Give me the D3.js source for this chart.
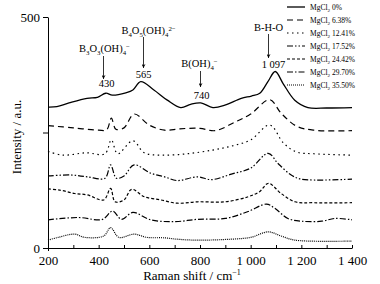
<!DOCTYPE html>
<html>
<head>
<meta charset="utf-8">
<script src="https://cdn.jsdelivr.net/npm/d3@7"></script>
<style>
  body { margin: 0; background: #fff; }
  text { font-family: "Liberation Serif", "DejaVu Serif", serif; }
</style>
</head>
<body>
<div class="chart"></div>
<script>
// legend labels (MgCl2 concentration)
let concentrations = ["0%", "6.38%", "12.41%", "17.52%", "24.42%", "29.70%", "35.50%"];

// spectra: [Raman shift, intensity]
let mg0 = [[200,305],[235,306],[283,314],[354,324],[395,326],[428,335],[454,331],[507,336],[535,342],[566,360],[618,342],[671,320],[724,304],[763,311],[803,314],[851,304],[898,309],[963,324],[1003,329],[1036,335],[1068,360],[1097,382],[1128,356],[1174,320],[1226,304],[1300,303],[1400,304]];
let mg638 = [[200,265],[300,260],[400,255],[432,256],[450,281],[468,257],[500,260],[540,290],[600,266],[660,255],[720,258],[800,259],[860,254],[940,273],[1000,290],[1075,321],[1120,292],[1180,264],[1250,255],[1400,254]];
let mg1241 = [[200,209],[260,201],[350,206],[425,204],[450,234],[475,204],[535,232],[580,206],[650,201],[750,204],[850,212],[920,220],[1000,234],[1075,266],[1130,227],[1180,208],[1250,204],[1400,201]];
let mg1752 = [[200,156],[290,158],[355,154],[425,151],[447,180],[470,151],[500,156],[540,180],[605,162],[660,154],[710,146],[790,154],[845,148],[924,160],[1000,173],[1069,205],[1108,183],[1160,158],[1200,149],[1400,149]];
let mg2442 = [[200,128],[250,125],[305,118],[355,115],[420,104],[447,129],[465,100],[500,104],[530,127],[580,111],[645,104],[710,97],[790,100],[900,100],[990,111],[1035,122],[1070,140],[1120,118],[1175,100],[1250,98],[1400,98]];
let mg2970 = [[200,61],[320,66],[415,62],[455,80],[490,62],[535,77],[605,61],[700,57],[790,62],[900,64],[990,79],[1062,95],[1095,86],[1147,64],[1200,58],[1280,58],[1332,64],[1400,61]];
let mg3550 = [[200,17],[240,23],[305,30],[345,23],[420,26],[447,44],[480,23],[540,30],[590,23],[660,22],[710,19],[790,17],[920,19],[1000,23],[1070,35],[1120,26],[1175,17],[1400,15]];

let spectra = [mg0, mg638, mg1241, mg1752, mg2442, mg2970, mg3550];

let xTicks = [200, 300, 400, 500, 600, 700, 800, 900, 1000, 1100, 1200, 1300, 1400];
let yTicks = [0, 250, 500];

// peak annotations: arrow position (cm-1, as drawn), value label
let peakAt = [418, 575, 800, 1070];
let peakValues = ["430", "565", "740", "1 097"];

let dashes = ["none", "6,4", "1.5,3.5", "6,2,1.5,2,1.5,2", "3,2", "6,2,1.5,2", "1,1"];

let serif = "Liberation Serif, DejaVu Serif, serif";

let svg = d3.select("div.chart").append("svg")
  .attr("width", 380)
  .attr("height", 284)
  .attr("font-family", serif);

let x = d3.scaleLinear().domain([200, 1400]).range([48, 352]);
let y = d3.scaleLinear().domain([0, 500]).range([248, 17]);

let fmt = (d) => d >= 1000 ? Math.floor(d / 1000) + " " + String(d).slice(1) : String(d);

// axes
let xAxis = svg.append("g")
  .attr("transform", "translate(0,248)")
  .call(d3.axisBottom(x).tickValues(xTicks).tickSize(-3).tickSizeOuter(0).tickPadding(8)
    .tickFormat((d) => d % 200 ? "" : fmt(d)));

let yAxis = svg.append("g")
  .attr("transform", "translate(48,0)")
  .call(d3.axisLeft(y).tickValues(yTicks).tickSize(5).tickSizeOuter(0).tickPadding(3)
    .tickFormat((d) => d === 250 ? "" : d));

xAxis.attr("font-family", serif).attr("font-size", 13);
yAxis.attr("font-family", serif).attr("font-size", 13);
svg.selectAll(".tick text").attr("fill", "#000");
svg.selectAll(".domain, .tick line").attr("stroke", "#000");

// y axis continues a little below zero
svg.append("line")
  .attr("x1", 48.5).attr("x2", 48.5)
  .attr("y1", 248).attr("y2", 251)
  .attr("stroke", "#000");

svg.append("text")
  .attr("x", 192).attr("y", 280)
  .attr("text-anchor", "middle")
  .attr("font-size", 13)
  .text("Raman shift / cm")
  .append("tspan")
  .attr("dy", -5)
  .attr("font-size", 8)
  .text("\u22121");

svg.append("text")
  .attr("transform", "translate(21,137) rotate(-90)")
  .attr("text-anchor", "middle")
  .attr("font-size", 13)
  .text("Intensity / a.u.");

// spectra
let line = d3.line()
  .x((d) => x(d[0]))
  .y((d) => y(d[1]))
  .curve(d3.curveCatmullRom.alpha(0.5));

svg.append("g")
  .selectAll("path")
  .data(spectra)
  .enter().append("path")
  .attr("d", line)
  .attr("fill", "none")
  .attr("stroke", "#000")
  .attr("stroke-width", (d, i) => i === 0 ? 1.3 : 1.2)
  .attr("stroke-dasharray", (d, i) => dashes[i]);

// text with sub/superscripts: parts = [text, shift] (shift: 0 normal, 1 sub, -1 sup)
function richText(g, parts, cx, cy, size) {
  let t = g.append("text")
    .attr("x", cx).attr("y", cy)
    .attr("text-anchor", "middle")
    .attr("font-size", size);
  let prev = 0;
  parts.forEach((p) => {
    let shift = p[1] * size * 0.3;
    t.append("tspan")
      .attr("dy", shift - prev)
      .attr("font-size", p[1] ? size * 0.65 : size)
      .text(p[0]);
    prev = shift;
  });
  return t;
}

let defs = svg.append("defs");
defs.append("marker")
  .attr("id", "arrow")
  .attr("viewBox", "0 0 6 6")
  .attr("refX", 3).attr("refY", 6)
  .attr("markerWidth", 4).attr("markerHeight", 5)
  .attr("orient", "0")
  .attr("markerUnits", "userSpaceOnUse")
  .append("path")
  .attr("d", "M0,0L3,6L6,0L3,2Z")
  .attr("fill", "#000");

let names = [
  [["B",0],["3",1],["O",0],["3",1],["(OH)",0],["4",1],["\u2212",-1]],
  [["B",0],["4",1],["O",0],["5",1],["(OH)",0],["4",1],["2\u2212",-1]],
  [["B(OH)",0],["4",1],["\u2212",-1]],
  [["B-H-O",0]]
];
// label layout: name baseline, arrow top/bottom, value baseline, name centre offset
let layout = [
  {nameY: 52, top: 56, bottom: 79, valY: 87, dx: 1, vdx: 3},
  {nameY: 34, top: 37, bottom: 68, valY: 78, dx: 5, vdx: 0},
  {nameY: 67, top: 71, bottom: 87, valY: 99, dx: -1, vdx: 1},
  {nameY: 31, top: 34, bottom: 58, valY: 68, dx: 0, vdx: 5}
];

let ann = svg.append("g");
peakAt.forEach((p, i) => {
  let px = Math.round(x(p)) + 0.5;
  let l = layout[i];
  richText(ann, names[i], px + l.dx, l.nameY, 10.5);
  ann.append("line")
    .attr("x1", px).attr("x2", px)
    .attr("y1", l.top).attr("y2", l.bottom)
    .attr("stroke", "#000")
    .attr("stroke-width", 0.8)
    .attr("marker-end", "url(#arrow)");
  ann.append("text")
    .attr("x", px + l.vdx).attr("y", l.valY)
    .attr("text-anchor", "middle")
    .attr("font-size", 10.5)
    .text(peakValues[i]);
});

// legend
let legend = svg.append("g")
  .selectAll("g")
  .data(concentrations)
  .enter().append("g")
  .attr("transform", (d, i) => "translate(0," + (7 + i * 13) + ")");

legend.append("line")
  .attr("x1", 287).attr("x2", 305)
  .attr("stroke", "#000")
  .attr("stroke-width", (d, i) => i === 0 ? 1.3 : 1.2)
  .attr("stroke-dasharray", (d, i) => dashes[i]);

let lt = legend.append("text")
  .attr("x", 310).attr("y", 3)
  .attr("font-size", 7.5);
lt.append("tspan").text("MgCl");
lt.append("tspan").attr("dy", 2).attr("font-size", 5).text("2");
lt.append("tspan").attr("dy", -2).text((d) => " " + d);
</script>
</body>
</html>
